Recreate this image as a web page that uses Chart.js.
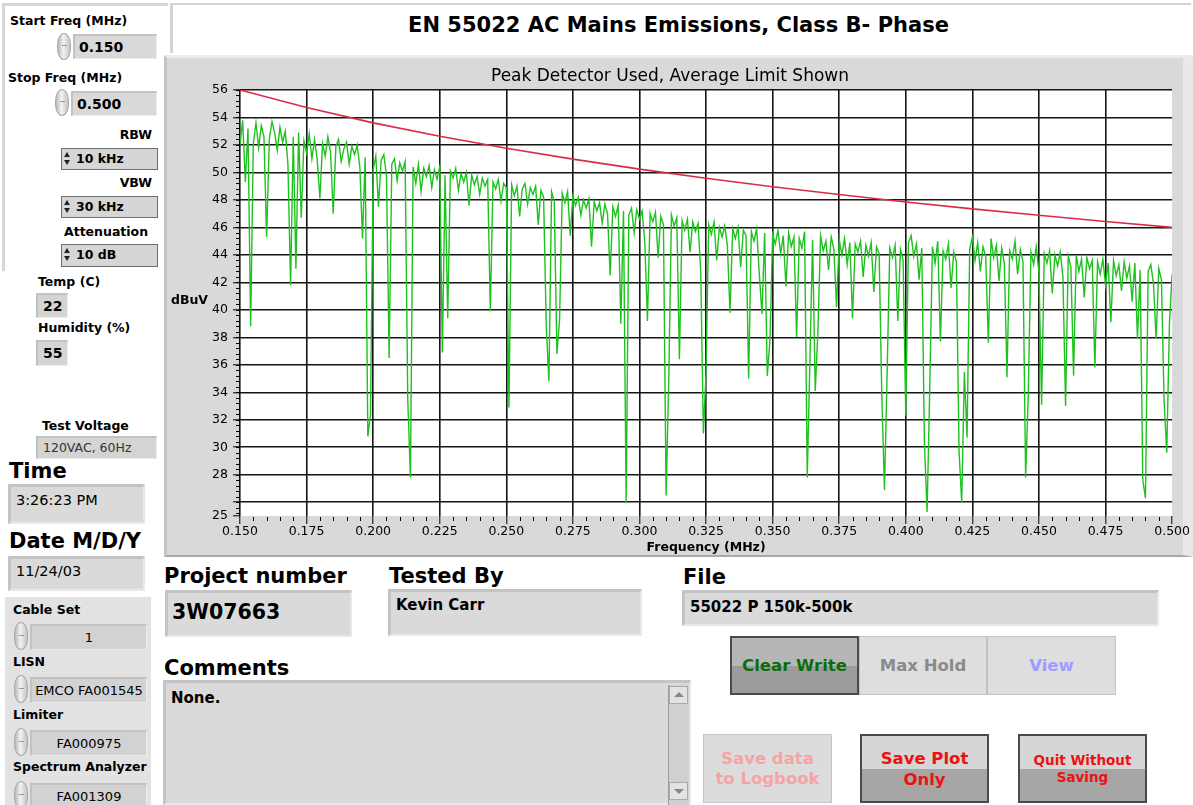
<!DOCTYPE html>
<html>
<head>
<meta charset="utf-8">
<script src="https://cdn.jsdelivr.net/npm/chart.js@4.4.1/dist/chart.umd.min.js"></script>
<style>
  body { margin:0; width:1193px; height:805px; background:#fff; position:relative; overflow:hidden; font-family:"DejaVu Sans", Arial, sans-serif; color:#000; }
  div { box-sizing:border-box; }
  .t { position:absolute; white-space:nowrap; }
  .lbl { position:absolute; white-space:nowrap; font-weight:bold; font-size:12.5px; line-height:16px; }
  .head { position:absolute; white-space:nowrap; font-weight:bold; font-size:21px; line-height:24px; }
  .fld { position:absolute; background:#d9d9d9; white-space:nowrap; overflow:hidden; border-style:solid; border-width:2px 1px 1px 2px; border-color:#c2c2c2 #ececec #ececec #c2c2c2; }
  .box { position:absolute; background:#dadada; white-space:nowrap; overflow:hidden; border-style:solid; border-width:3px 2px 2px 3px; border-color:#c4c4c4 #e8e8e8 #e8e8e8 #c4c4c4; }
  .sel { position:absolute; background:#d6d6d6; border:1px solid #6e6e6e; font-weight:bold; font-size:12.5px; line-height:20px; padding-left:14px; }
  .updn { position:absolute; left:1px; top:1px; width:8px; height:18px; }
  .updn::before { content:''; position:absolute; left:1px; top:2px; border-left:3px solid transparent; border-right:3px solid transparent; border-bottom:5px solid #222; }
  .updn::after { content:''; position:absolute; left:1px; top:10px; border-left:3px solid transparent; border-right:3px solid transparent; border-top:5px solid #222; }
  .knob { position:absolute; width:14px; border-radius:7px / 12px; border:1px solid #a8a8a8; background:linear-gradient(90deg,#b8b8b8,#f2f2f2 45%,#c4c4c4); }
  .knob::after { content:''; position:absolute; left:4px; top:45%; width:5px; height:1px; background:#999; }
  .btn { position:absolute; display:flex; align-items:center; justify-content:center; text-align:center; font-weight:bold; }
</style>
</head>
<body>

<!-- left controls -->
<div class="t" style="left:2px;top:3px;width:166px;height:268px;border-top:3px solid #d6d6d6;border-left:3px solid #d6d6d6;"></div>
<div class="lbl" style="left:10px;top:13px;">Start Freq (MHz)</div>
<div class="knob" style="left:57px;top:33px;height:27px;"></div>
<div class="fld" style="left:73px;top:34px;width:84px;height:25px;font-weight:bold;font-size:14px;line-height:22px;padding-left:4px;">0.150</div>
<div class="lbl" style="left:8px;top:70px;">Stop Freq (MHz)</div>
<div class="knob" style="left:55px;top:89px;height:27px;"></div>
<div class="fld" style="left:71px;top:91px;width:86px;height:25px;font-weight:bold;font-size:14px;line-height:22px;padding-left:4px;">0.500</div>
<div class="lbl" style="left:100px;top:127px;width:52px;text-align:right;">RBW</div>
<div class="sel" style="left:61px;top:148px;width:97px;height:22px;"><span class="updn"></span>10 kHz</div>
<div class="lbl" style="left:100px;top:175px;width:52px;text-align:right;">VBW</div>
<div class="sel" style="left:61px;top:196px;width:97px;height:22px;"><span class="updn"></span>30 kHz</div>
<div class="lbl" style="left:64px;top:224px;">Attenuation</div>
<div class="sel" style="left:61px;top:244px;width:97px;height:23px;"><span class="updn"></span>10 dB</div>

<div class="lbl" style="left:38px;top:274px;">Temp (C)</div>
<div class="fld" style="left:36px;top:293px;width:32px;height:25px;font-weight:bold;font-size:14px;line-height:22px;padding-left:5px;background:#d4d4d4;">22</div>
<div class="lbl" style="left:38px;top:320px;">Humidity (%)</div>
<div class="fld" style="left:36px;top:340px;width:32px;height:26px;font-weight:bold;font-size:14px;line-height:23px;padding-left:5px;background:#d4d4d4;">55</div>
<div class="lbl" style="left:42px;top:418px;">Test Voltage</div>
<div class="fld" style="left:36px;top:436px;width:121px;height:23px;font-size:12.5px;line-height:20px;padding-left:5px;background:#d4d4d4;color:#333;">120VAC, 60Hz</div>

<div class="head" style="left:9px;top:459px;">Time</div>
<div class="box" style="left:8px;top:484px;width:137px;height:40px;font-size:14.5px;line-height:26px;padding-left:5px;">3:26:23 PM</div>
<div class="head" style="left:9px;top:529px;">Date M/D/Y</div>
<div class="box" style="left:8px;top:556px;width:137px;height:35px;font-size:14.5px;line-height:24px;padding-left:5px;">11/24/03</div>

<div class="t" style="left:5px;top:597px;width:146px;height:208px;background:#e2e2e2;"></div>
<div class="lbl" style="left:13px;top:602px;">Cable Set</div>
<div class="knob" style="left:14px;top:622px;height:28px;"></div>
<div class="fld" style="left:30px;top:624px;width:117px;height:26px;font-size:13px;line-height:23px;text-align:center;background:#d2d2d2;">1</div>
<div class="lbl" style="left:13px;top:654px;">LISN</div>
<div class="knob" style="left:14px;top:675px;height:28px;"></div>
<div class="fld" style="left:30px;top:677px;width:117px;height:26px;font-size:13px;line-height:23px;text-align:center;background:#d2d2d2;">EMCO FA001545</div>
<div class="lbl" style="left:13px;top:707px;">Limiter</div>
<div class="knob" style="left:14px;top:728px;height:28px;"></div>
<div class="fld" style="left:30px;top:730px;width:117px;height:26px;font-size:13px;line-height:23px;text-align:center;background:#d2d2d2;">FA000975</div>
<div class="lbl" style="left:13px;top:759px;">Spectrum Analyzer</div>
<div class="knob" style="left:14px;top:781px;height:28px;"></div>
<div class="fld" style="left:30px;top:783px;width:117px;height:26px;font-size:13px;line-height:23px;text-align:center;background:#d2d2d2;">FA001309</div>

<!-- title -->
<div class="t" style="left:170px;top:3px;width:1021px;height:50px;border-top:2px solid #d4d4d4;border-left:3px solid #d4d4d4;"></div>
<div class="t" style="left:170px;top:12px;width:1017px;text-align:center;font-weight:bold;font-size:21px;line-height:26px;">EN 55022 AC Mains Emissions, Class B- Phase</div>

<!-- chart panel -->
<div class="t" style="left:164px;top:55px;width:1029px;height:502px;background:#d9d9d9;border-left:3px solid #c6c6c6;border-top:3px solid #ececec;border-right:10px solid #e9e9e9;border-bottom:2px solid #a8a8a8;"></div>
<div class="t" style="left:167px;top:55px;width:1023px;height:500px;">
  <canvas id="emiChart" width="1023" height="500"></canvas>
</div>
<div class="t" style="left:171px;top:292px;font-weight:bold;font-size:12.5px;line-height:16px;">dBuV</div>

<!-- bottom -->
<div class="head" style="left:164px;top:564px;">Project number</div>
<div class="box" style="left:165px;top:590px;width:187px;height:47px;font-weight:bold;font-size:20.5px;line-height:38px;padding-left:4px;">3W07663</div>
<div class="head" style="left:389px;top:564px;">Tested By</div>
<div class="box" style="left:388px;top:589px;width:254px;height:47px;font-weight:bold;font-size:15px;line-height:26px;padding-left:5px;">Kevin Carr</div>
<div class="head" style="left:683px;top:565px;">File</div>
<div class="box" style="left:682px;top:590px;width:477px;height:36px;font-weight:bold;font-size:15px;line-height:28px;padding-left:5px;">55022 P 150k-500k</div>
<div class="head" style="left:164px;top:656px;">Comments</div>
<div class="box" style="left:163px;top:680px;width:528px;height:125px;font-weight:bold;font-size:15px;line-height:30px;padding-left:5px;">None.</div>
<div class="t" style="left:668px;top:685px;width:21px;height:120px;background:#d0d0d0;border-left:1px solid #9a9a9a;"></div>
<div class="t" style="left:669px;top:686px;width:19px;height:18px;background:#e2e2e2;border:1px solid #aaa;"></div>
<div class="t" style="left:674px;top:692px;border-left:5px solid transparent;border-right:5px solid transparent;border-bottom:5px solid #888;"></div>
<div class="t" style="left:669px;top:782px;width:19px;height:18px;background:#e2e2e2;border:1px solid #aaa;"></div>
<div class="t" style="left:674px;top:789px;border-left:5px solid transparent;border-right:5px solid transparent;border-top:5px solid #888;"></div>

<div class="btn" style="left:730px;top:636px;width:129px;height:59px;background:linear-gradient(#b6b6b6 0 50%,#9c9c9c 50%);border:2px solid #4a4a4a;color:#0b6e0b;font-size:16.5px;">Clear Write</div>
<div class="btn" style="left:859px;top:636px;width:128px;height:59px;background:#dedede;border:1px solid #c2c2c2;color:#8a8a8a;font-size:16.5px;">Max Hold</div>
<div class="btn" style="left:987px;top:636px;width:129px;height:59px;background:#dedede;border:1px solid #c2c2c2;color:#9c9cff;font-size:16.5px;">View</div>
<div class="btn" style="left:703px;top:734px;width:129px;height:69px;background:#dcdcdc;border:1px solid #c4c4c4;color:#f4a4a4;font-size:16.5px;line-height:20px;">Save data<br>to Logbook</div>
<div class="btn" style="left:860px;top:734px;width:129px;height:69px;background:linear-gradient(#d6d6d6 0 51%,#a6a6a6 51%);border:2px solid #4a4a4a;color:#ee1111;font-size:16.5px;line-height:21px;">Save Plot<br>Only</div>
<div class="btn" style="left:1018px;top:734px;width:129px;height:69px;background:linear-gradient(#d6d6d6 0 51%,#a6a6a6 51%);border:2px solid #4a4a4a;color:#ee1111;font-size:13.5px;line-height:17px;">Quit Without<br>Saving</div>

<script>
// sweep: Start Freq 0.150 MHz, 1 kHz per point, up to Stop Freq 0.500 MHz
const sweepStartMHz = 0.150;
const sweepStepMHz  = 0.001;

// peak detector trace (dBuV), one value per sweep point
const peakDbuv = [
  52.0, 53.8, 49.3, 53.2, 38.8, 52.1, 53.6, 51.8, 53.4, 52.6,
  45.3, 52.4, 53.7, 52.9, 51.6, 53.3, 52.2, 53.0, 50.6, 41.8,
  52.6, 43.0, 52.9, 46.7, 52.3, 51.4, 52.8, 51.0, 52.4, 50.9,
  48.1, 52.1, 51.2, 52.6, 51.5, 47.0, 51.9, 52.4, 50.8, 51.7,
  52.2, 50.6, 51.9, 51.3, 52.0, 50.4, 45.2, 51.1, 30.8, 32.4,
  50.2, 51.2, 47.5, 50.9, 51.3, 49.8, 36.5, 50.6, 51.0, 49.4,
  50.7, 50.1, 50.8, 33.4, 27.8, 50.4, 49.2, 50.6, 48.6, 50.3,
  49.7, 50.5, 48.9, 50.2, 49.5, 50.4, 36.9, 49.8, 39.4, 50.1,
  49.6, 50.3, 48.7, 49.9, 49.3, 50.0, 47.6, 49.8, 49.1, 49.7,
  48.4, 49.6, 49.0, 49.5, 39.9, 49.3, 48.8, 49.5, 47.9, 49.2,
  48.9, 32.9, 49.1, 48.3, 49.0, 46.8, 48.8, 49.2, 47.7, 48.9,
  48.4, 49.0, 46.2, 48.7, 48.2, 38.8, 34.8, 48.6, 47.9, 36.8,
  39.3, 48.5, 47.8, 48.6, 45.4, 48.3, 47.6, 48.2, 46.9, 48.0,
  47.4, 48.1, 44.6, 47.9, 47.2, 47.8, 46.3, 47.7, 47.0, 42.5,
  47.5, 46.8, 47.6, 39.0, 47.2, 26.0, 46.9, 47.4, 45.6, 47.3,
  46.6, 47.2, 44.9, 39.2, 47.0, 46.4, 47.1, 43.8, 46.8, 46.2,
  26.5, 34.9, 46.9, 46.1, 46.7, 36.4, 46.5, 45.8, 46.6, 44.2,
  46.4, 45.7, 46.3, 42.8, 31.0, 35.5, 46.2, 45.5, 46.4, 43.6,
  46.0, 45.3, 46.1, 44.7, 39.8, 45.9, 45.2, 46.0, 43.1, 45.8,
  45.4, 35.0, 45.7, 45.0, 45.9, 42.6, 39.7, 45.6, 35.2, 37.8,
  45.5, 44.8, 45.8, 44.1, 45.4, 41.7, 45.6, 44.6, 45.3, 38.0,
  45.2, 44.5, 45.7, 27.8, 36.3, 45.1, 34.1, 38.4, 45.4, 44.3,
  45.0, 42.9, 45.3, 44.4, 40.2, 45.1, 44.0, 45.2, 43.3, 44.9,
  39.4, 44.8, 44.2, 45.0, 42.4, 44.7, 43.9, 44.9, 41.3, 44.6,
  44.1, 33.7, 26.9, 35.5, 44.5, 43.8, 44.7, 39.2, 44.4, 43.6,
  32.3, 44.9, 45.4, 43.9, 44.8, 42.2, 44.5, 30.3, 25.3, 34.3,
  44.6, 43.4, 45.0, 37.7, 44.3, 43.7, 44.8, 41.6, 44.2, 43.5,
  29.7, 26.0, 35.5, 30.7, 44.4, 45.3, 43.6, 44.9, 42.8, 44.6,
  43.9, 37.6, 45.2, 43.8, 44.7, 42.1, 44.5, 43.4, 35.1, 44.3,
  43.7, 45.0, 42.6, 44.4, 43.5, 27.8, 33.9, 44.2, 43.3, 44.6,
  42.7, 33.1, 44.1, 43.4, 44.3, 41.2, 44.0, 43.2, 44.2, 42.4,
  33.0, 43.9, 43.1, 35.2, 44.0, 42.8, 43.7, 40.9, 43.8, 43.0,
  43.6, 35.8, 43.5, 42.6, 43.7, 41.8, 43.4, 39.1, 43.6, 42.5,
  43.3, 41.4, 43.5, 42.3, 43.2, 40.6, 43.4, 37.9, 42.9, 27.6,
  26.3, 42.8, 43.3, 41.9, 37.9, 43.0, 42.2, 33.3, 29.6, 39.0, 42.6
];

// Class B average limit line
const limitFreqMHz = [0.150, 0.175, 0.200, 0.225, 0.250, 0.275, 0.300, 0.325, 0.350, 0.375, 0.400, 0.425, 0.450, 0.475, 0.500];
const limitDbuv    = [56.00, 54.72, 53.61, 52.63, 51.76, 50.97, 50.24, 49.58, 48.96, 48.39, 47.85, 47.35, 46.88, 46.43, 46.00];

// axis ticks
const xTickValues = [0.150, 0.175, 0.200, 0.225, 0.250, 0.275, 0.300, 0.325, 0.350, 0.375, 0.400, 0.425, 0.450, 0.475, 0.500];
const yTickValues = [25, 26, 28, 30, 32, 34, 36, 38, 40, 42, 44, 46, 48, 50, 52, 54, 56];

const peakPoints  = peakDbuv.map((v, i) => ({ x: sweepStartMHz + i * sweepStepMHz, y: v }));
const limitPoints = limitFreqMHz.map((f, i) => ({ x: f, y: limitDbuv[i] }));

// white plot area + small minor ticks like the analyzer display
const plotDecor = {
    id: "plotDecor",
    beforeDraw(chart) {
        const { ctx, chartArea: a } = chart;
        ctx.save();
        ctx.fillStyle = "#fff";
        ctx.fillRect(a.left, a.top, a.right - a.left, a.bottom - a.top);
        ctx.restore();
    },
    afterDraw(chart) {
        const { ctx, chartArea: a, scales: { x, y } } = chart;
        ctx.save();
        ctx.strokeStyle = "#000";
        ctx.lineWidth = 1;
        ctx.beginPath();
        for (let i = 1; i < 70; i++) {
            if (i % 5 === 0) continue;
            const px = Math.round(x.getPixelForValue(0.150 + i * 0.005)) + 0.5;
            ctx.moveTo(px, a.bottom + 1);
            ctx.lineTo(px, a.bottom + 5);
        }
        for (let i = 0; i <= 77; i++) {
            const py = Math.round(y.getPixelForValue(56 - i * 0.4)) + 0.5;
            ctx.moveTo(a.left - 4, py);
            ctx.lineTo(a.left, py);
        }
        ctx.stroke();
        ctx.restore();
    }
};

Chart.defaults.font.family = "'DejaVu Sans', Arial, sans-serif";
Chart.defaults.color = "#000";

new Chart(document.getElementById("emiChart"), {
    type: "line",
    data: {
        datasets: [
            { label: "Peak", data: peakPoints, borderColor: "#1ec21e", borderWidth: 1.4, pointRadius: 0, tension: 0 },
            { label: "Average limit", data: limitPoints, borderColor: "#dc2a4c", borderWidth: 1.6, pointRadius: 0, tension: 0 }
        ]
    },
    options: {
        responsive: false,
        animation: false,
        layout: { padding: { left: 0, right: 17, top: 0, bottom: 0 } },
        plugins: {
            legend: { display: false },
            tooltip: { enabled: false },
            title: {
                display: true,
                text: "Peak Detector Used, Average Limit Shown",
                font: { size: 17, weight: "normal" },
                padding: { top: 11, bottom: 3.6 }
            }
        },
        scales: {
            x: {
                type: "linear", min: 0.150, max: 0.500,
                afterBuildTicks: s => { s.ticks = xTickValues.map(v => ({ value: v })); },
                afterFit: s => { s.height = 39; },
                ticks: { callback: v => v.toFixed(3), font: { size: 12.5 }, padding: 0, maxRotation: 0 },
                grid: {
                    color: c => (c.tick && c.tick.value === 0.5) ? "rgba(0,0,0,0)" : "#151515",
                    lineWidth: 1.6, tickLength: 8, tickColor: "#000", tickWidth: 1
                },
                border: { display: false },
                title: { display: true, text: "Frequency (MHz)", font: { size: 12.5, weight: "bold" }, padding: { top: 0, bottom: 0 } }
            },
            y: {
                min: 25, max: 56,
                afterBuildTicks: s => { s.ticks = yTickValues.map(v => ({ value: v })); },
                afterFit: s => { s.width = 73; },
                ticks: { callback: v => (v === 26 ? "" : String(v)), font: { size: 12.5 }, padding: 5 },
                grid: {
                    color: c => (c.tick && c.tick.value === 25) ? "rgba(0,0,0,0)" : "#151515",
                    lineWidth: 1.6, tickLength: 7, tickColor: "#000", tickWidth: 1
                },
                border: { display: false }
            }
        }
    },
    plugins: [plotDecor]
});
</script>
</body>
</html>
